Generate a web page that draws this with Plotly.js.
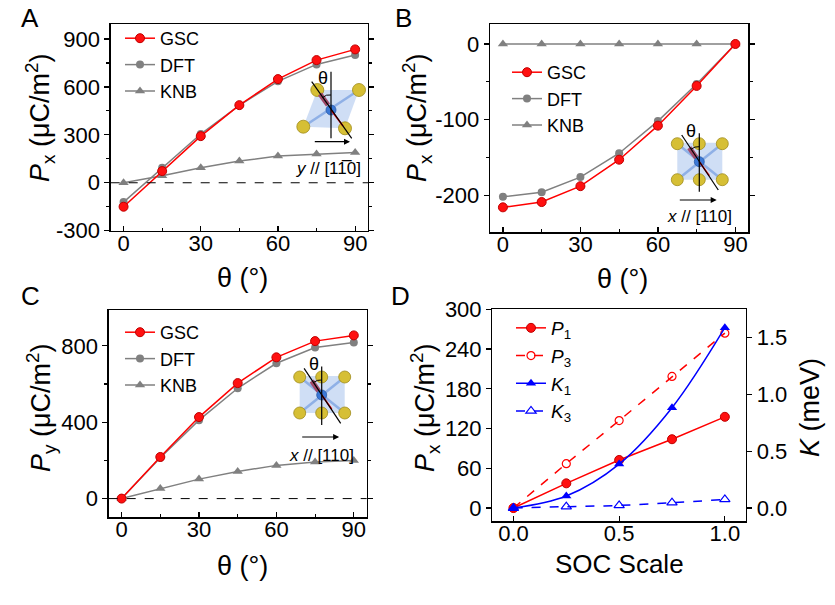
<!DOCTYPE html>
<html>
<head>
<meta charset="utf-8">
<script src="https://cdn.plot.ly/plotly-3.0.1.min.js"></script>
<style>body{margin:0;background:#fff} #graph-div{width:835px;height:605px}</style>
</head>
<body>
<div id="graph-div"></div>
<script>
// data
var theta = [0, 15, 30, 45, 60, 75, 90];
var pxA_gsc = [-150, 73, 292, 486, 649, 768, 835];
var pxA_dft = [-121, 94, 305, 485, 635, 741, 800];
var pxA_knb = [0, 44, 94, 136, 167, 180, 190];
var pxB_gsc = [-216, -209, -188, -153, -108, -55.5, 0];
var pxB_dft = [-202, -196, -176, -144.5, -102, -53, 0];
var pxB_knb = [0, 0, 0, 0, 0, 0, 0];
var pyC_gsc = [0, 218, 427, 605, 740, 825, 855];
var pyC_dft = [0, 214, 411, 578, 709, 791, 818];
var pyC_knb = [0, 53, 102, 142, 174, 192, 199];
var soc = [0, 0.25, 0.5, 0.75, 1.0];
var p1 = [0, 37.3, 72.6, 103.9, 137.7];
var p3 = [0, 67, 132, 198.7, 264];
var k1 = [0, 0.106, 0.387, 0.883, 1.588];
var k3 = [0, 0.012, 0.023, 0.047, 0.076];
var tickA = [-300, 0, 300, 600, 900];
var tickB = [-200, -100, 0];
var tickLabA = ['-300', '0', '300', '600', '900'];
var tickLabB = ['-200', '-100', '0'];

var W = 835, H = 605;
var FONT = 'Liberation Sans, Arial, sans-serif';
function X(px) { return px / W; }
function Y(py) { return 1 - py / H; }

var red = '#ff0000', gray = '#808080', blue = '#0000ff';

function gsc(x, y, xa, ya, lg) {
  return {x: x, y: y, xaxis: xa, yaxis: ya, name: 'GSC', legend: lg, legendrank: 1, mode: 'lines+markers',
    line: {color: red, width: 1.5}, marker: {symbol: 'circle', size: 9, color: '#ff1010', line: {color: '#c00000', width: 1}}};
}
function dft(x, y, xa, ya, lg) {
  return {x: x, y: y, xaxis: xa, yaxis: ya, name: 'DFT', legend: lg, legendrank: 2, mode: 'lines+markers',
    line: {color: gray, width: 1.5}, marker: {symbol: 'circle', size: 8, color: gray}};
}
function knb(x, y, xa, ya, lg) {
  return {x: x, y: y, xaxis: xa, yaxis: ya, name: 'KNB', legend: lg, legendrank: 3, mode: 'lines+markers',
    line: {color: gray, width: 1.5}, marker: {symbol: 'triangle-up', size: 9, color: gray}};
}

var traces = [
  knb(theta, pxA_knb, 'x', 'y', 'legend'), dft(theta, pxA_dft, 'x', 'y', 'legend'), gsc(theta, pxA_gsc, 'x', 'y', 'legend'),
  knb(theta, pxB_knb, 'x2', 'y2', 'legend2'), dft(theta, pxB_dft, 'x2', 'y2', 'legend2'), gsc(theta, pxB_gsc, 'x2', 'y2', 'legend2'),
  knb(theta, pyC_knb, 'x3', 'y3', 'legend3'), dft(theta, pyC_dft, 'x3', 'y3', 'legend3'), gsc(theta, pyC_gsc, 'x3', 'y3', 'legend3'),
  {x: soc, y: p1, xaxis: 'x4', yaxis: 'y4', name: '<i>P</i><sub>1</sub>', legend: 'legend4', legendrank: 1, mode: 'lines+markers',
    line: {color: red, width: 1.5}, marker: {symbol: 'circle', size: 9, color: '#ff1010', line: {color: '#c00000', width: 1}}},
  {x: soc, y: p3, xaxis: 'x4', yaxis: 'y4', name: '<i>P</i><sub>3</sub>', legend: 'legend4', legendrank: 2, mode: 'lines+markers',
    line: {color: red, width: 1.5, dash: 'dash'}, marker: {symbol: 'circle-open', size: 8, color: red, line: {width: 1.2}}},
  {x: soc, y: k1, xaxis: 'x4', yaxis: 'y5', name: '<i>K</i><sub>1</sub>', legend: 'legend4', legendrank: 3, mode: 'lines+markers',
    line: {color: blue, width: 1.5, shape: 'spline'}, marker: {symbol: 'triangle-up', size: 9, color: blue}},
  {x: soc, y: k3, xaxis: 'x4', yaxis: 'y5', name: '<i>K</i><sub>3</sub>', legend: 'legend4', legendrank: 4, mode: 'lines+markers',
    line: {color: blue, width: 1.5, dash: 'dash', shape: 'spline'}, marker: {symbol: 'triangle-up-open', size: 9, color: blue, line: {width: 1.2}}}
];

var shapes = [], annos = [];

function seg(x0, y0, x1, y1, color, width) {
  shapes.push({type: 'line', xref: 'paper', yref: 'paper', layer: 'above',
    x0: X(x0), y0: Y(y0), x1: X(x1), y1: Y(y1), line: {color: color, width: width}});
}
function ball(x, y, r, fill, edge) {
  shapes.push({type: 'circle', xref: 'paper', yref: 'paper', layer: 'above',
    x0: X(x - r), x1: X(x + r), y0: Y(y + r), y1: Y(y - r), fillcolor: fill, line: {color: edge, width: 0.8}});
}
function poly(pts, fill) {
  var p = 'M' + pts.map(function(q) { return X(q[0]) + ',' + Y(q[1]); }).join('L') + 'Z';
  shapes.push({type: 'path', xref: 'paper', yref: 'paper', layer: 'above', path: p, fillcolor: fill, line: {width: 0}});
}
function arc(cx, cy, a, b, c) {
  var p = 'M' + X(cx + a[0]) + ',' + Y(cy + a[1]) + 'Q' + X(cx + b[0]) + ',' + Y(cy + b[1]) + ' ' + X(cx + c[0]) + ',' + Y(cy + c[1]);
  shapes.push({type: 'path', xref: 'paper', yref: 'paper', layer: 'above', path: p, line: {color: '#000', width: 1}});
}
function txt(x, y, s, size, opts) {
  var a = {xref: 'paper', yref: 'paper', x: X(x), y: Y(y), text: s, showarrow: false,
    font: {family: FONT, size: size, color: '#000'}, xanchor: 'center', yanchor: 'middle'};
  for (var k in opts) a[k] = opts[k];
  annos.push(a);
}
function arrow(x0, x1, y) {
  annos.push({xref: 'paper', yref: 'paper', x: X(x1), y: Y(y), ax: X(x0), ay: Y(y), axref: 'paper', ayref: 'paper',
    text: '', showarrow: true, arrowhead: 2, arrowsize: 1, arrowwidth: 1.2, arrowcolor: '#000'});
}

var gold = '#d6bf35', goldEdge = '#a08c1c', cell = 'rgba(160,190,235,0.5)', bond = '#8fb0e6';

// inset A: rhombic cell
function insetRhomb(cx, cy, label) {
  var tl = [-13.7, -20], tr = [28, -20], br = [14, 18.3], bl = [-27.7, 16.7];
  poly([[cx + tl[0], cy + tl[1]], [cx + tr[0], cy + tr[1]], [cx + br[0], cy + br[1]], [cx + bl[0], cy + bl[1]]], cell);
  seg(cx + bl[0], cy + bl[1], cx + tr[0], cy + tr[1], bond, 2.5);
  [tl, tr, br, bl].forEach(function(p) { ball(cx + p[0], cy + p[1], 6.5, gold, goldEdge); });
  seg(cx - 11, cy - 16, cx - 3, cy - 5, '#a04a6a', 5);
  ball(cx, cy, 5, '#3b78d6', '#2a5aa8');
  seg(cx, cy, cx + 12, cy + 16, red, 1.5);
  seg(cx - 19.3, cy - 28.3, cx + 20.7, cy + 28.3, '#000', 1.2);
  seg(cx, cy - 38.3, cx, cy + 28.3, '#000', 1.2);
  arc(cx, cy, [0, -15], [-4.5, -16], [-8.7, -12.3]);
  txt(cx - 7.7, cy - 31.7, 'θ', 18);
  arrow(cx - 17.7, cx + 19, cy + 31.7);
  txt(cx - 3, cy + 58, label, 17);
}
// insets B, C: square cell
function insetSquare(cx, cy, dArrow, dText, label) {
  poly([[cx - 22, cy - 19], [cx + 23, cy - 19], [cx + 23, cy + 18], [cx - 22, cy + 18]], cell);
  seg(cx - 22, cy - 18, cx + 23, cy + 18, bond, 2.5);
  seg(cx + 23, cy - 18, cx - 22, cy + 18, bond, 2.5);
  [[-22, -18], [0, -18], [23, -18], [-22, 18], [0, 18], [23, 18]].forEach(function(p) { ball(cx + p[0], cy + p[1], 6, gold, goldEdge); });
  seg(cx - 10, cy - 14, cx - 3, cy - 4, '#a04a6a', 5);
  ball(cx, cy, 5, '#3b78d6', '#2a5aa8');
  seg(cx, cy, cx + 10, cy + 14, red, 1.5);
  seg(cx - 17.6, cy - 26.7, cx + 19, cy + 28.3, '#000', 1.2);
  seg(cx, cy - 28.4, cx, cy + 30, '#000', 1.2);
  arc(cx, cy, [0, -15], [-4.3, -15.5], [-8.3, -12.5]);
  txt(cx - 8, cy - 31, 'θ', 18);
  arrow(cx - 21, cx + 17.4, cy + dArrow);
  txt(cx, cy + dText, label, 17);
}

insetRhomb(331, 110, '<i>y</i> // [1\u0031\u03050]');
insetSquare(699.3, 161.7, 38.3, 55, '<i>x</i> // [110]');
insetSquare(321.7, 395, 42, 60, '<i>x</i> // [110]');

// dashed zero lines
shapes.push({type: 'line', xref: 'x domain', yref: 'y', x0: 0, x1: 1, y0: 0, y1: 0, line: {color: '#000', width: 1, dash: 'dash'}});
shapes.push({type: 'line', xref: 'x3 domain', yref: 'y3', x0: 0, x1: 1, y0: 0, y1: 0, line: {color: '#000', width: 1, dash: 'dash'}});

// panel letters and axis titles
txt(30, 18, 'A', 26); txt(403, 18, 'B', 26); txt(30, 296, 'C', 26); txt(400, 296, 'D', 26);
var pTitleX = '<i>P</i><sub>x</sub> (μC/m<sup>2</sup>)';
txt(40, 118, pTitleX, 27, {textangle: -90});
txt(417, 118, pTitleX, 27, {textangle: -90});
txt(41, 408, '<i>P</i><sub>y</sub> (μC/m<sup>2</sup>)', 27, {textangle: -90});
txt(425, 408, pTitleX, 27, {textangle: -90});
txt(810, 408, '<i>K</i> (meV)', 27, {textangle: -90});
txt(243, 278, 'θ (°)', 27);
txt(622, 279, 'θ (°)', 27);
txt(242, 566, 'θ (°)', 27);
txt(619, 564, 'SOC Scale', 26);

function xax(d0, d1, anchor, range, dtick, minor) {
  var a = {domain: [X(d0), X(d1)], anchor: anchor, range: range, dtick: dtick, tick0: 0,
    ticks: 'inside', ticklen: 5, tickwidth: 1.2, tickcolor: '#000', showline: true, linecolor: '#000', linewidth: 1.3,
    mirror: true, showgrid: false, zeroline: false, ticklabelstandoff: -8, tickfont: {family: FONT, size: 22, color: '#000'}};
  if (minor) a.minor = {dtick: minor, ticks: 'inside', ticklen: 3, tickcolor: '#000', showgrid: false};
  return a;
}
function yax(top, bot, anchor, range, opts) {
  var a = {domain: [Y(bot), Y(top)], anchor: anchor, range: range,
    ticks: 'outside', ticklen: 5, tickwidth: 1.2, tickcolor: '#000', showline: true, linecolor: '#000', linewidth: 1.3,
    mirror: 'ticks', showgrid: false, zeroline: false, tickfont: {family: FONT, size: 22, color: '#000'}};
  for (var k in opts) a[k] = opts[k];
  return a;
}
function leg(x, y, size) {
  return {x: X(x), y: Y(y), xanchor: 'left', yanchor: 'top', bgcolor: 'rgba(0,0,0,0)', borderwidth: 0,
    font: {family: FONT, size: size, color: '#000'}, tracegroupgap: 0};
}

var layout = {
  width: W, height: H, margin: {l: 0, r: 0, t: 0, b: 0},
  paper_bgcolor: '#fff', plot_bgcolor: '#fff', showlegend: true,
  font: {family: FONT, color: '#000'},
  xaxis: xax(110.7, 368, 'y', [-5, 95], 30, 15),
  yaxis: yax(24, 231, 'x', [-302, 994], {tickvals: tickA, ticktext: tickLabA, minor: {dtick: 150, ticks: 'outside', ticklen: 3, tickcolor: '#000', showgrid: false}}),
  xaxis2: xax(490, 748.3, 'y2', [-5, 95], 30, 15),
  yaxis2: yax(24.3, 232.3, 'x2', [-249, 26], {tickvals: tickB, ticktext: tickLabB, minor: {dtick: 50, ticks: 'outside', ticklen: 3, tickcolor: '#000', showgrid: false}}),
  xaxis3: xax(108.7, 366.7, 'y3', [-5, 95], 30, 15),
  yaxis3: yax(310, 517.3, 'x3', [-98, 988], {dtick: 400, tick0: 0, minor: {dtick: 200, ticks: 'outside', ticklen: 3, tickcolor: '#000', showgrid: false}}),
  xaxis4: xax(492.3, 746, 'y4', [-0.1, 1.1], 0.5, null),
  yaxis4: yax(309.3, 521.3, 'x4', [-20, 300], {dtick: 60, tick0: 0, mirror: false}),
  yaxis5: yax(309.3, 521.3, 'x4', [-0.1167, 1.75], {dtick: 0.5, tick0: 0, tickformat: '.1f', overlaying: 'y4', side: 'right', mirror: false}),
  legend: leg(120, 20, 18),
  legend2: leg(507, 54, 18),
  legend3: leg(120, 314, 18),
  legend4: leg(511, 309, 19),
  shapes: shapes,
  annotations: annos
};
layout.xaxis4.tickformat = '.1f';

Plotly.newPlot(document.getElementById('graph-div'), traces, layout, {displayModeBar: false, responsive: false, staticPlot: true});
</script>
</body>
</html>
